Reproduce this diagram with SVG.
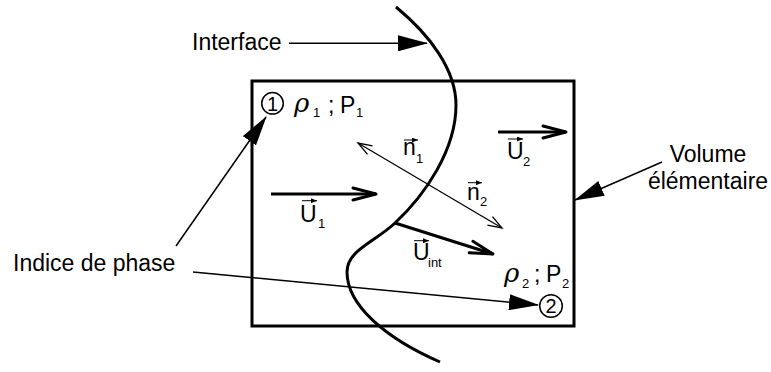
<svg xmlns="http://www.w3.org/2000/svg" width="771" height="372" viewBox="0 0 771 372">
<style>
.t{font-family:"Liberation Sans",Arial,sans-serif;font-size:23px;fill:#000}
.s{font-size:13px}
.c{font-size:20px}
.g{font-family:"DejaVu Serif","Liberation Serif",serif;font-style:italic;font-size:26px}
.thin{fill:none;stroke:#000;stroke-width:1.5}
.thick{fill:none;stroke:#000;stroke-width:3}
.n{fill:none;stroke:#000;stroke-width:1.3}
.v{fill:none;stroke:#000;stroke-width:1}
</style>
<defs>
<marker id="tri" markerUnits="userSpaceOnUse" markerWidth="30" markerHeight="16" viewBox="0 0 30 16" refX="29" refY="8" orient="auto"><path d="M0,0L30,8L0,16z" fill="#000"/></marker>
<marker id="barb" markerUnits="userSpaceOnUse" markerWidth="30" markerHeight="20" viewBox="-27 -10 30 20" refX="0" refY="0" orient="auto"><path d="M-23,-6L0,0L-23,6" fill="none" stroke="#000" stroke-width="3" stroke-linejoin="round" stroke-linecap="round"/></marker>
<marker id="nb" markerUnits="userSpaceOnUse" markerWidth="20" markerHeight="14" viewBox="-17 -7 20 14" refX="0" refY="0" orient="auto-start-reverse"><path d="M-14,-5L0,0L-14,5" fill="none" stroke="#000" stroke-width="1.3"/></marker>
<marker id="vh" markerUnits="userSpaceOnUse" markerWidth="6" markerHeight="5" viewBox="0 0 6 5" refX="6" refY="2.5" orient="auto"><path d="M0,0L6,2.5L0,5z" fill="#000"/></marker>
</defs>

<g id="volume">
<rect x="252" y="81" width="322" height="245" class="thick"/>
</g>
<g id="interface-curve">
<path d="M396,7 C430,35 456,70 456,105 C456,150 425,195 395,223 C375,242 347,250 347,272 C347,305 385,338 440,362" class="thick"/>
</g>

<g id="connectors">
<path d="M289,43.3 L427,43.3" class="thin" marker-end="url(#tri)"/>
<path d="M176,246 L266,117" class="thin" marker-end="url(#tri)"/>
<path d="M193,272 L538,305" class="thin" marker-end="url(#tri)"/>
<path d="M662,162 L575,200" class="thin" marker-end="url(#tri)"/>
<path d="M271,194 L376,194" class="thick" marker-end="url(#barb)"/>
<path d="M498,132 L566,132" class="thick" marker-end="url(#barb)"/>
<path d="M395,223 L493,254" class="thick" marker-end="url(#barb)"/>
<path d="M358,143 L502,228" class="n" marker-start="url(#nb)" marker-end="url(#nb)"/>
</g>

<g id="label-interface"><text class="t" x="192" y="50">Interface</text></g>
<g id="label-indice"><text class="t" x="13" y="271">Indice de phase</text></g>
<g id="label-volume"><text class="t" x="708" y="162" text-anchor="middle">Volume</text><text class="t" x="708" y="189" text-anchor="middle">élémentaire</text></g>

<g id="phase1">
<circle cx="272.5" cy="103.3" r="10.8" class="thin"/>
<text class="t c" x="272.5" y="110.5" text-anchor="middle">1</text>
</g>
<g id="phase2">
<circle cx="551" cy="306" r="11.3" class="thin"/>
<text class="t c" x="551" y="313.2" text-anchor="middle">2</text>
</g>

<g id="props1">
<text class="g" x="294" y="112">ρ</text><text class="t s" x="313" y="117">1</text>
<text class="t" x="328" y="113">;</text>
<text class="t" x="340" y="113">P</text><text class="t s" x="356" y="117">1</text>
</g>
<g id="props2">
<text class="g" x="504" y="282">ρ</text><text class="t s" x="522" y="288">2</text>
<text class="t" x="534" y="282">;</text>
<text class="t" x="546" y="282">P</text><text class="t s" x="562" y="288">2</text>
</g>

<g id="label-U1">
<text class="t" x="300" y="221.7">U</text><text class="t s" x="318" y="228">1</text>
<path d="M302,200.7 L317,200.7" class="v" marker-end="url(#vh)"/>
</g>
<g id="label-U2">
<text class="t" x="507" y="159">U</text><text class="t s" x="523" y="166">2</text>
<path d="M508,139 L523,139" class="v" marker-end="url(#vh)"/>
</g>
<g id="label-Uint">
<text class="t" x="413" y="260">U</text><text class="t s" x="428" y="267">int</text>
<path d="M414,240.7 L429,240.7" class="v" marker-end="url(#vh)"/>
</g>
<g id="label-n1">
<text class="t" x="403" y="155">n</text><text class="t s" x="416" y="163">1</text>
<path d="M404,140 L418,140" class="v" marker-end="url(#vh)"/>
</g>
<g id="label-n2">
<text class="t" x="467" y="200">n</text><text class="t s" x="480" y="206">2</text>
<path d="M468,182.7 L482,182.7" class="v" marker-end="url(#vh)"/>
</g>
</svg>
